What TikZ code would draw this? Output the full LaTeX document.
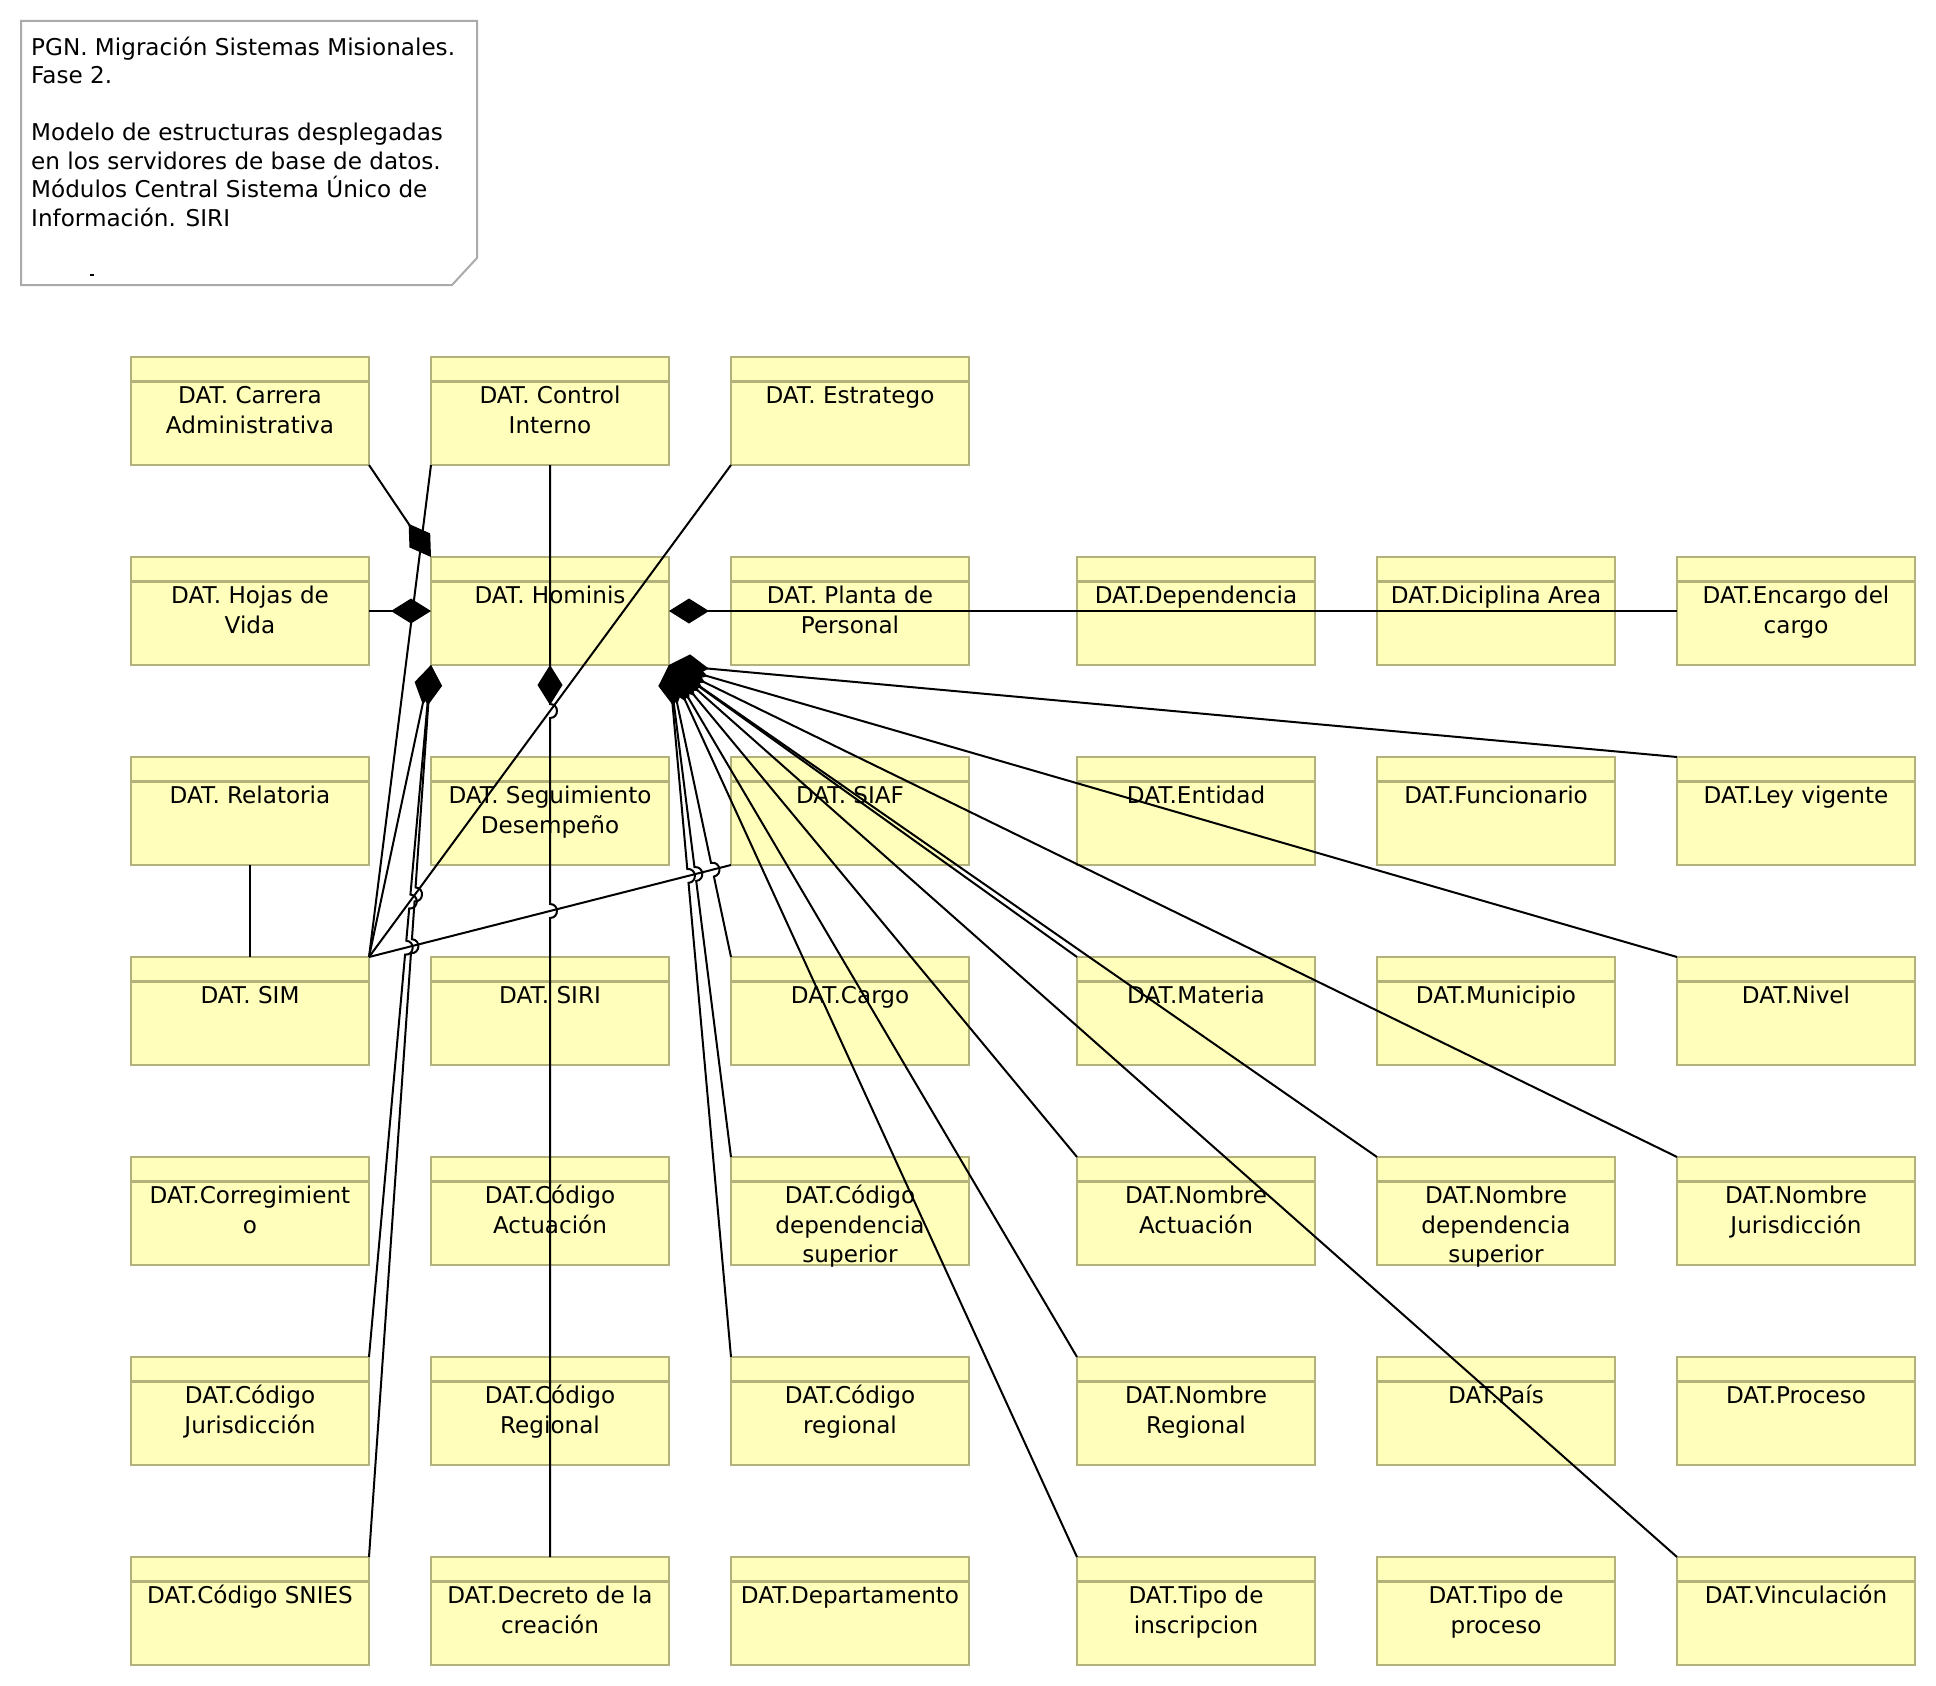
\documentclass[tikz,border=0pt]{standalone}
\usepackage{fontspec}
\setmainfont{DejaVu Sans}
\usetikzlibrary{arrows.meta,calc,intersections}

\definecolor{fondoT}{RGB}{255,255,187}
\definecolor{bordeT}{RGB}{178,178,122}
\definecolor{bordeN}{RGB}{170,170,170}

\begin{document}
\begin{tikzpicture}[x=1pt, y=-1pt,
    tabla/.style={draw=bordeT, fill=fondoT, line width=2.4pt, minimum width=238pt, minimum height=108pt, inner sep=0pt, outer sep=0pt, anchor=north west},
    titulo/.style={anchor=north, inner sep=0pt, align=center, font=\fontsize{23.1pt}{29.4pt}\selectfont},
    conector/.style={line width=2pt},
    compos/.style={conector, {Diamond[length=40pt, width=25pt]}-},
    salto/.style={bend left=90, looseness=1.7}]

    % Marco
    \useasboundingbox (0,0) rectangle (1936,1686);

    % Nota
    \draw[bordeN, fill=white, line width=2pt] (21,21) -- (477,21) -- (477,258) -- (452,285) -- (21,285) -- cycle;
    \node[anchor=north west, inner sep=0pt, align=left, font=\fontsize{23.1pt}{28.5pt}\selectfont] (nota) at (31,36)
        {\rule{0pt}{19pt}PGN. Migración Sistemas Misionales.\\Fase 2.\\ \mbox{}\\Modelo de estructuras desplegadas\\en los servidores de base de datos.\\Módulos Central Sistema Único de\\Información. SIRI};
    \draw[line width=1.5pt] (90,275) -- (94,275);

    % Tablas
    \foreach \nom/\x/\y/\txt in {
        carr/131/357/{DAT. Carrera\\Administrativa},
        ctrl/431/357/{DAT. Control\\Interno},
        estr/731/357/{DAT. Estratego},
        hojas/131/557/{DAT. Hojas de\\Vida},
        hom/431/557/{DAT. Hominis},
        planta/731/557/{DAT. Planta de\\Personal},
        dep/1077/557/{DAT.Dependencia},
        dis/1377/557/{DAT.Diciplina Area},
        enc/1677/557/{DAT.Encargo del\\cargo},
        rel/131/757/{DAT. Relatoria},
        seg/431/757/{DAT. Seguimiento\\Desempeño},
        siaf/731/757/{DAT. SIAF},
        ent/1077/757/{DAT.Entidad},
        func/1377/757/{DAT.Funcionario},
        ley/1677/757/{DAT.Ley vigente},
        sim/131/957/{DAT. SIM},
        siri/431/957/{DAT. SIRI},
        cargo/731/957/{DAT.Cargo},
        mat/1077/957/{DAT.Materia},
        mun/1377/957/{DAT.Municipio},
        niv/1677/957/{DAT.Nivel},
        corr/131/1157/{DAT.Corregimient\\o},
        cact/431/1157/{DAT.Código\\Actuación},
        cdep/731/1157/{DAT.Código\\dependencia\\superior},
        nact/1077/1157/{DAT.Nombre\\Actuación},
        ndep/1377/1157/{DAT.Nombre\\dependencia\\superior},
        njur/1677/1157/{DAT.Nombre\\Jurisdicción},
        cjur/131/1357/{DAT.Código\\Jurisdicción},
        codRegional/431/1357/{DAT.Código\\Regional},
        codregional/731/1357/{DAT.Código\\regional},
        nreg/1077/1357/{DAT.Nombre\\Regional},
        pais/1377/1357/{DAT.País},
        proc/1677/1357/{DAT.Proceso},
        snies/131/1557/{DAT.Código SNIES},
        decr/431/1557/{DAT.Decreto de la\\creación},
        depto/731/1557/{DAT.Departamento},
        tins/1077/1557/{DAT.Tipo de\\inscripcion},
        tproc/1377/1557/{DAT.Tipo de\\proceso},
        vinc/1677/1557/{DAT.Vinculación}}{
        \node[tabla] (\nom) at (\x,\y) {};
        \draw[bordeT, line width=2.4pt] ([yshift=-24.5pt]\nom.north west) -- ([yshift=-24.5pt]\nom.north east);
        \node[titulo] (\nom-t) at ([yshift=-27.5pt]\nom.north) {\rule{0pt}{19pt}\txt};
    }

    % Lineas hacia SIM
    \draw[conector] (ctrl.south west) -- (sim.north east);
    \draw[conector, name path=estrsim] (estr.south west) -- (sim.north east);
    \draw[conector, name path=siafsim] (siaf.south west) -- (sim.north east);
    \draw[conector] (rel) -- (sim);

    % Composiciones de Hominis
    \draw[compos] (hom.north west) -- (carr.south east);
    \draw[compos] (hom.west) -- (hojas.east);
    \draw[compos] (hom.east) -- (enc.west);
    \draw[compos] (hom.south west) -- (sim.north east);
    \foreach \dest in {ley,niv,njur,ndep,vinc,mat,nact,nreg,tins}
        \draw[compos] (hom.south east) -- (\dest.north west);

    % Saltos sobre SIAF-SIM
    \foreach \dest in {cargo,cdep,codregional}{
        \path[name path=ruta] (hom.south east) -- (\dest.north west);
        \path[name intersections={of=ruta and siafsim, by=h}];
        \draw[compos] (hom.south east) -- ($(h)!7pt!(hom.south east)$) to[salto] ($(h)!7pt!(\dest.north west)$) -- (\dest.north west);
    }

    % Saltos sobre Estratego-SIM y SIAF-SIM
    \foreach \dest in {cjur,snies}{
        \path[name path=ruta] (hom.south west) -- (\dest.north east);
        \path[name intersections={of=ruta and estrsim, by=ha}];
        \path[name intersections={of=ruta and siafsim, by=hb}];
        \draw[compos] (hom.south west) -- ($(ha)!7pt!(hom.south west)$) to[salto] ($(ha)!7pt!(\dest.north east)$)
            -- ($(hb)!7pt!(hom.south west)$) to[salto] ($(hb)!7pt!(\dest.north east)$) -- (\dest.north east);
    }

    % Control Interno - Decreto
    \path[name path=vert] (ctrl.south) -- (decr.north);
    \path[name intersections={of=vert and estrsim, by=va}];
    \path[name intersections={of=vert and siafsim, by=vb}];
    \draw[conector] (ctrl.south) -- ($(va)!7pt!(ctrl.south)$) to[salto] ($(va)!7pt!(decr.north)$)
        -- ($(vb)!7pt!(ctrl.south)$) to[salto] ($(vb)!7pt!(decr.north)$) -- (decr.north);
    \draw[compos] (hom.south) -- ($(va)!7pt!(hom.south)$);
\end{tikzpicture}
\end{document}
